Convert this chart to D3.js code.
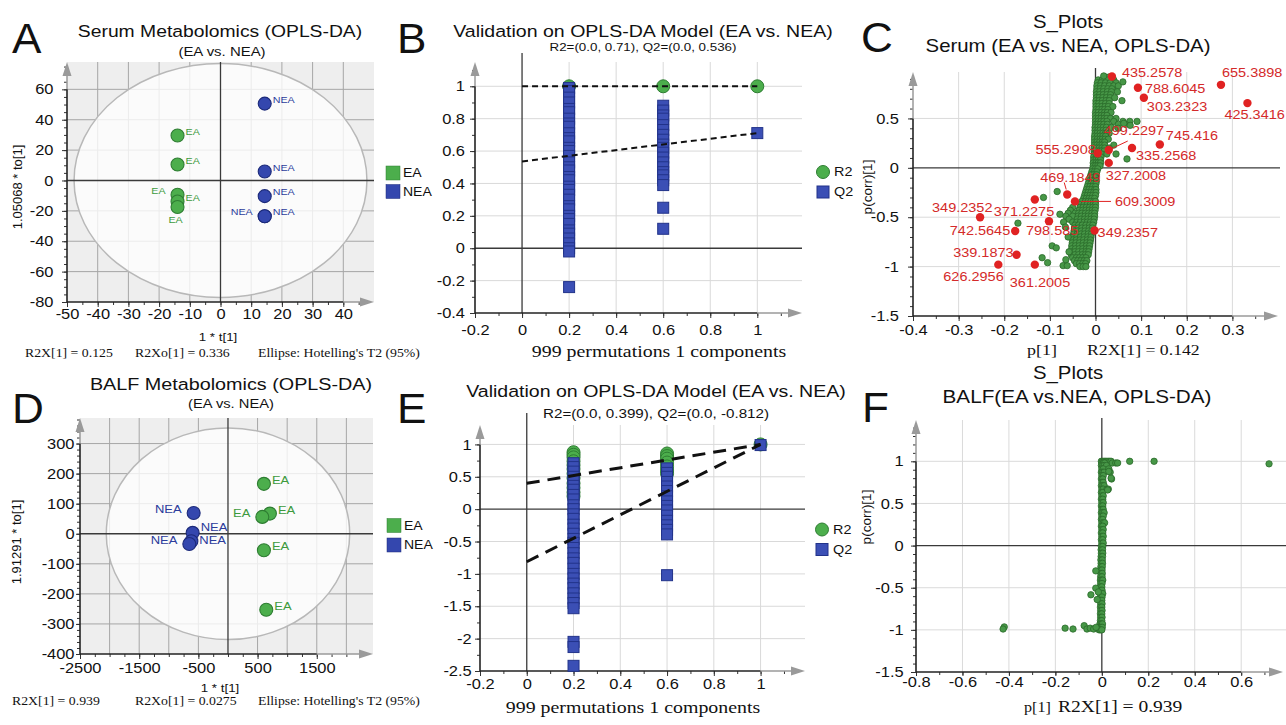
<!DOCTYPE html>
<html>
<head>
<meta charset="utf-8">
<script src="https://cdn.jsdelivr.net/npm/d3@7"></script>
<style>
  body { margin: 0; background: #fff; }
  svg { display: block; }
</style>
</head>
<body>
<svg id="fig"></svg>
<script>
// ---------------- data ----------------
// A: serum OPLS-DA scores  [t[1], to[1]]
const serumEA  = [[-14, 29.6], [-14, 10.5], [-14, -9.4], [-14, -13.8], [-14, -17.5]];
const serumNEA = [[14.4, 50.6], [14.4, 5.9], [14.4, -10.3], [14.4, -23.5], [14.4, -23.5]];
const serumEASide  = ["r", "r", "l", "r", "b"];
const serumNEASide = ["r", "r", "r", "r", "l"];
const serumEllipse = [47.7, 77];

// D: BALF OPLS-DA scores
const balfEA  = [[607, 166], [708, 67], [580, 56], [607, -55], [647, -253]];
const balfNEA = [[-580, 69], [-597, 3], [-619, -25], [-653, -34]];
const balfEASide  = ["r", "r", "l", "r", "r"];
const balfNEASide = ["l", "r", "r", "l"];
const balfEllipse = [2056, 352];

// B: serum permutation test
const serumR2 = [[0.2, [1.0]], [0.6, [1.0]], [1, [1.0]]];
const serumQ2 = [
  [0.2, [0.99, 0.97, 0.93, 0.9, 0.86, 0.84, 0.8, 0.77, 0.75, 0.71, 0.68, 0.66, 0.62, 0.6, 0.57, 0.53, 0.5, 0.48,
         0.44, 0.42, 0.38, 0.36, 0.33, 0.3, 0.26, 0.24, 0.2, 0.18, 0.15, 0.11, 0.09, 0.06, 0.03, 0.0, -0.02, -0.24]],
  [0.6, [0.88, 0.85, 0.82, 0.8, 0.76, 0.73, 0.7, 0.67, 0.64, 0.62, 0.59, 0.56, 0.53, 0.5, 0.47, 0.45, 0.42, 0.39, 0.25, 0.12]],
  [1, [0.711]]
];
const serumR2Line = [[0, 1.0], [1, 1.0]];
const serumQ2Line = [[0, 0.536], [1, 0.711]];

// E: BALF permutation test
const balfR2 = [
  [0.2, [0.88, 0.84, 0.8, 0.74, 0.68, 0.62, 0.55, 0.48, 0.4, 0.33, 0.26, 0.2]],
  [0.6, [0.86, 0.82, 0.78, 0.72, 0.66, 0.6, 0.55]],
  [1, [1.0]]
];
const balfQ2 = [
  [0.2, [0.71, 0.65, 0.58, 0.5, 0.44, 0.36, 0.3, 0.22, 0.15, 0.06, 0.0, -0.08, -0.15, -0.24, -0.3, -0.38, -0.46, -0.52,
         -0.6, -0.68, -0.76, -0.83, -0.92, -1.0, -1.07, -1.15, -1.22, -1.3, -1.38, -1.45, -1.53, -2.05, -2.13, -2.42]],
  [0.6, [0.63, 0.56, 0.5, 0.42, 0.35, 0.28, 0.2, 0.12, 0.05, -0.02, -0.1, -0.18, -0.25, -0.32, -0.39, -1.02]],
  [1, [0.99]]
];
const balfR2Line = [[0, 0.399], [1, 1.0]];
const balfQ2Line = [[0, -0.812], [1, 1.0]];

// C: serum S-plot  rows [p(corr), [p values]]
const serumBand = [
  [0.92, [0.02, 0.03]],
  [0.89, [0.006, 0.015, 0.025, 0.04]],
  [0.86, [0.004, 0.012, 0.022, 0.032, 0.045]],
  [0.83, [0.003, 0.011, 0.02, 0.03, 0.04, 0.05]],
  [0.80, [0.003, 0.01, 0.018, 0.027, 0.036]],
  [0.77, [0.002, 0.009, 0.017, 0.026, 0.035, 0.048]],
  [0.74, [0.002, 0.009, 0.017, 0.025, 0.033]],
  [0.71, [0.002, 0.008, 0.016, 0.024, 0.032, 0.042]],
  [0.68, [0.001, 0.008, 0.015, 0.023, 0.03]],
  [0.65, [0.001, 0.007, 0.014, 0.022, 0.03]],
  [0.62, [0.001, 0.007, 0.014, 0.021, 0.028, 0.038]],
  [0.59, [0.001, 0.007, 0.014, 0.02, 0.027]],
  [0.56, [0.0, 0.006, 0.013, 0.02, 0.026, 0.034]],
  [0.53, [0.0, 0.006, 0.013, 0.019, 0.025]],
  [0.50, [0.0, 0.006, 0.012, 0.019, 0.025, 0.033, 0.045]],
  [0.47, [0.0, 0.006, 0.012, 0.018, 0.025, 0.04, 0.06, 0.075]],
  [0.44, [0.0, 0.005, 0.011, 0.018, 0.026, 0.05, 0.066]],
  [0.41, [-0.001, 0.005, 0.011, 0.017, 0.024, 0.035]],
  [0.38, [-0.001, 0.005, 0.01, 0.017, 0.023]],
  [0.35, [-0.001, 0.004, 0.01, 0.016, 0.022, 0.03]],
  [0.32, [-0.002, 0.004, 0.01, 0.016, 0.022]],
  [0.29, [-0.002, 0.004, 0.01, 0.015, 0.021, 0.028]],
  [0.26, [-0.002, 0.003, 0.009, 0.015, 0.02]],
  [0.23, [-0.002, 0.003, 0.009, 0.014, 0.02, 0.04]],
  [0.20, [-0.003, 0.003, 0.008, 0.014, 0.02, 0.03]],
  [0.17, [-0.003, 0.002, 0.008, 0.013, 0.019]],
  [0.14, [-0.003, 0.002, 0.007, 0.013, 0.025, 0.045]],
  [0.11, [-0.004, 0.002, 0.007, 0.012]],
  [0.08, [-0.004, 0.001, 0.006, 0.011]],
  [0.05, [-0.005, 0.001, 0.006, 0.011]],
  [0.02, [-0.005, 0.0, 0.005, 0.01]],
  [-0.01, [-0.006, 0.0, 0.005]],
  [-0.04, [-0.008, -0.002, 0.003]],
  [-0.07, [-0.01, -0.004, 0.002]],
  [-0.10, [-0.012, -0.006, 0.0]],
  [-0.13, [-0.014, -0.008, -0.002, 0.002]],
  [-0.16, [-0.016, -0.01, -0.004, 0.001]],
  [-0.19, [-0.018, -0.012, -0.006, 0.0]],
  [-0.22, [-0.02, -0.014, -0.008, -0.002, 0.001]],
  [-0.25, [-0.022, -0.016, -0.01, -0.004, 0.001]],
  [-0.28, [-0.024, -0.018, -0.012, -0.006, 0.0]],
  [-0.31, [-0.026, -0.02, -0.014, -0.008, -0.002]],
  [-0.34, [-0.03, -0.022, -0.016, -0.01, -0.004, 0.0]],
  [-0.37, [-0.032, -0.025, -0.018, -0.011, -0.005, 0.0]],
  [-0.40, [-0.05, -0.034, -0.027, -0.02, -0.013, -0.006, 0.0]],
  [-0.43, [-0.055, -0.036, -0.028, -0.021, -0.014, -0.007, -0.001]],
  [-0.46, [-0.06, -0.045, -0.037, -0.03, -0.022, -0.015, -0.008, -0.002]],
  [-0.49, [-0.065, -0.05, -0.038, -0.031, -0.023, -0.016, -0.009, -0.002]],
  [-0.52, [-0.058, -0.04, -0.032, -0.024, -0.017, -0.01, -0.003]],
  [-0.55, [-0.05, -0.041, -0.033, -0.025, -0.018, -0.011, -0.004]],
  [-0.58, [-0.045, -0.037, -0.029, -0.021, -0.013, -0.006]],
  [-0.61, [-0.046, -0.038, -0.03, -0.022, -0.014, -0.007]],
  [-0.64, [-0.047, -0.039, -0.031, -0.023, -0.015, -0.008]],
  [-0.67, [-0.048, -0.04, -0.032, -0.024, -0.016, -0.009]],
  [-0.70, [-0.05, -0.041, -0.033, -0.025, -0.017, -0.01]],
  [-0.73, [-0.05, -0.042, -0.034, -0.026, -0.018, -0.011]],
  [-0.76, [-0.051, -0.043, -0.035, -0.027, -0.019, -0.012]],
  [-0.79, [-0.052, -0.044, -0.036, -0.028, -0.02, -0.013]],
  [-0.82, [-0.052, -0.044, -0.036, -0.028, -0.02, -0.014]],
  [-0.85, [-0.053, -0.045, -0.037, -0.029, -0.021, -0.015]],
  [-0.88, [-0.053, -0.045, -0.037, -0.029, -0.022, -0.016]],
  [-0.91, [-0.05, -0.042, -0.035, -0.028, -0.021]],
  [-0.94, [-0.046, -0.039, -0.032, -0.025, -0.019]],
  [-0.97, [-0.042, -0.035, -0.028, -0.022]],
  [-1.00, [-0.034, -0.027, -0.021]]
];
const serumScatter = [
  [0.018, 0.93], [0.06, 0.87], [0.058, 0.68], [0.069, 0.09], [0.091, 0.47], [0.076, 0.43], [0.062, 0.45],
  [0.05, 0.4], [-0.114, -0.30], [-0.084, -0.24], [-0.17, -0.56], [-0.078, -0.47], [-0.095, -0.79],
  [-0.086, -0.81], [-0.117, -0.91], [-0.105, -0.96], [-0.071, -0.99], [-0.062, -0.99], [-0.07, -0.55],
  [-0.066, -0.6], [-0.06, -0.7], [-0.058, -0.85], [-0.065, -0.93]
];
// marked metabolites [name, p[1], p(corr)[1]]
const serumMarked = [
  ["435.2578", 0.036, 0.925], ["655.3898", 0.275, 0.84], ["788.6045", 0.093, 0.81], ["303.2323", 0.106, 0.71],
  ["425.3416", 0.333, 0.655], ["745.416", 0.141, 0.236], ["499.2297", 0.029, 0.18], ["555.2908", 0.005, 0.148],
  ["335.2568", 0.080, 0.2], ["327.2008", 0.029, 0.05], ["469.1849", -0.062, -0.27], ["609.3009", -0.045, -0.34],
  ["349.2352", -0.253, -0.50], ["371.2275", -0.133, -0.32], ["742.5645", -0.176, -0.64], ["798.585", -0.102, -0.54],
  ["349.2357", -0.002, -0.635], ["339.1873", -0.173, -0.88], ["626.2956", -0.213, -0.98], ["361.2005", -0.133, -0.98]
];

// F: BALF S-plot
const balfBand = [
  [1.0, [-0.002, 0.004, 0.01, 0.016, 0.022, 0.028, 0.034, 0.04]],
  [0.98, [0.0, 0.006, 0.012, 0.045, 0.06, 0.068]],
  [0.95, [-0.002, 0.004, 0.01, 0.02]],
  [0.91, [0.0, 0.006, 0.03]],
  [0.87, [-0.002, 0.004, 0.01, 0.036]],
  [0.83, [0.0, 0.006]],
  [0.79, [-0.002, 0.004, 0.042]],
  [0.75, [0.0, 0.006]],
  [0.71, [-0.002, 0.004, 0.01]],
  [0.67, [0.0, 0.006, 0.022, 0.028]],
  [0.63, [-0.002, 0.004]],
  [0.59, [0.0, 0.006]],
  [0.55, [-0.002, 0.004]],
  [0.51, [0.0, 0.006]],
  [0.47, [-0.002, 0.004]],
  [0.43, [0.0, 0.006]],
  [0.39, [-0.002, 0.004, 0.01]],
  [0.35, [0.0, 0.006]],
  [0.31, [-0.002, 0.004]],
  [0.27, [0.0, 0.006, 0.012]],
  [0.23, [-0.002, 0.004]],
  [0.19, [0.0, 0.006]],
  [0.15, [-0.002, 0.004]],
  [0.11, [0.0, 0.006]],
  [0.07, [-0.002, 0.004]],
  [0.03, [0.0, 0.006]],
  [-0.01, [-0.002, 0.004]],
  [-0.05, [-0.003, 0.003]],
  [-0.09, [-0.002, 0.004]],
  [-0.13, [-0.003, 0.003]],
  [-0.17, [-0.004, 0.002]],
  [-0.21, [-0.003, 0.003]],
  [-0.25, [-0.004, 0.002]],
  [-0.29, [-0.005, 0.001]],
  [-0.33, [-0.004, 0.002]],
  [-0.37, [-0.005, 0.001]],
  [-0.41, [-0.006, 0.0, 0.004]],
  [-0.45, [-0.005, 0.001]],
  [-0.49, [-0.006, 0.0]],
  [-0.53, [-0.005, 0.001]],
  [-0.57, [-0.006, 0.0, 0.004]],
  [-0.61, [-0.005, 0.001]],
  [-0.65, [-0.006, 0.0]],
  [-0.69, [-0.005, 0.001]],
  [-0.73, [-0.006, 0.0]],
  [-0.77, [-0.005, 0.001]],
  [-0.81, [-0.006, 0.0]],
  [-0.85, [-0.005, 0.001]],
  [-0.89, [-0.006, 0.0]],
  [-0.93, [-0.008, -0.002, 0.003]],
  [-0.97, [-0.01, -0.004, 0.002]],
  [-1.0, [-0.012, -0.006, 0.0]]
];
const balfScatter = [
  [0.12, 1.0], [0.225, 1.0], [0.72, 0.97], [0.04, 0.8], [0.03, 0.88], [0.025, 0.66],
  [-0.026, -0.30], [-0.026, -0.505], [-0.047, -0.584], [-0.02, -0.64], [-0.015, -0.55],
  [-0.158, -0.98], [-0.124, -0.99], [-0.076, -0.95], [-0.064, -0.99], [-0.05, -0.98], [-0.035, -0.99],
  [-0.025, -0.97], [-0.42, -0.965], [-0.425, -0.99]
];

// ---------------- drawing ----------------
const SX = 1.15;          // the source figure's text is a little wide
const SANS = '"Liberation Sans", Arial, sans-serif';
const SERIF = '"Liberation Serif", "Times New Roman", serif';
const TICK = 14.3;
const GREEN = "#4cae4c", GREEN_D = "#2e7d32", BLUE = "#3447ae", BLUE_D = "#1c2a7a";
const SGREEN = "#479747", SGREEN_D = "#2a6a2a", RED = "#e02222", RED_T = "#d42a2a";

const svg = d3.select("#fig").attr("width", 1286).attr("height", 725);
svg.append("rect").attr("width", 1286).attr("height", 725).attr("fill", "#fff");

const fmt = d => String(+d.toFixed(3));

function txt(g, x, y, s, o = {}) {
  const t = g.append("text")
    .attr("transform", o.rot ? `translate(${x},${y}) rotate(-90)` : `translate(${x},${y}) scale(${o.sx || SX},1)`)
    .attr("font-family", o.serif ? SERIF : SANS)
    .attr("font-size", o.size || 12)
    .attr("text-anchor", o.anchor || "start")
    .attr("fill", o.fill || "#111")
    .text(s);
  if (o.mid) t.attr("dy", "0.35em");
  return t;
}

function frame(g, o) {
  const x = o.x, y = o.y;
  const [L, R] = x.range(), [B, T] = y.range();
  const GR = o.gridRight || R;
  if (o.bg) g.append("rect").attr("x", L).attr("y", T).attr("width", GR - L).attr("height", B - T).attr("fill", "#eeeeee");
  g.append("g").selectAll("line").data(o.xGrid).join("line")
    .attr("x1", d => x(d)).attr("x2", d => x(d)).attr("y1", T).attr("y2", B)
    .attr("stroke", o.gridColor).attr("stroke-width", 1);
  g.append("g").selectAll("line").data(o.yGrid).join("line")
    .attr("x1", L).attr("x2", GR).attr("y1", d => y(d)).attr("y2", d => y(d))
    .attr("stroke", o.gridColor).attr("stroke-width", 1);
  if (o.ellipse) {
    g.append("ellipse")
      .attr("cx", x(0)).attr("cy", y(0))
      .attr("rx", x(o.ellipse[0]) - x(0)).attr("ry", y(0) - y(o.ellipse[1]))
      .attr("fill", "rgba(255,255,255,0.78)").attr("stroke", "#b8b8b8").attr("stroke-width", 1.5);
  }
  g.append("line").attr("x1", x(0)).attr("x2", x(0)).attr("y1", o.zeroTop || T).attr("y2", B)
    .attr("stroke", "#3a3a3a").attr("stroke-width", 1.3);
  g.append("line").attr("x1", L).attr("x2", o.zeroRight || R).attr("y1", y(0)).attr("y2", y(0))
    .attr("stroke", "#3a3a3a").attr("stroke-width", 1.3);

  const ax = g.append("g").attr("transform", `translate(0,${B})`)
    .call(d3.axisBottom(x).tickValues(o.xMajor).tickSize(o.xTick[0]).tickPadding(o.xTick[1]).tickFormat(fmt));
  g.append("g").attr("transform", `translate(0,${B})`)
    .call(d3.axisBottom(x).tickValues(o.xMinor).tickSize(3).tickFormat(""));
  const ay = g.append("g").attr("transform", `translate(${L},0)`)
    .call(d3.axisLeft(y).tickValues(o.yMajor).tickSize(o.yTick[0]).tickPadding(o.yTick[1]).tickFormat(fmt));
  g.append("g").attr("transform", `translate(${L},0)`)
    .call(d3.axisLeft(y).tickValues(o.yMinor).tickSize(3).tickFormat(""));
  g.selectAll(".domain").remove();
  g.selectAll(".tick line").attr("stroke", "#333").attr("stroke-width", 1);
  ax.selectAll("text").attr("font-size", TICK).attr("font-family", SANS).attr("fill", "#111")
    .attr("transform", `scale(${SX},1)`);
  ay.selectAll("text").attr("font-size", TICK).attr("font-family", SANS).attr("fill", "#111")
    .attr("x", -(o.yTick[0] + o.yTick[1]) / SX).attr("transform", `scale(${SX},1)`);

  // axis lines: black up to the last major tick, grey with an arrow beyond
  const xe = x(d3.max(o.xMajor)), ye = y(d3.max(o.yMajor));
  g.append("line").attr("x1", L).attr("x2", xe).attr("y1", B).attr("y2", B).attr("stroke", "#222").attr("stroke-width", 1.6);
  g.append("line").attr("x1", xe).attr("x2", R - 8).attr("y1", B).attr("y2", B).attr("stroke", "#9a9a9a").attr("stroke-width", 1.5);
  g.append("path").attr("d", `M${R},${B}L${R - 14},${B - 4.5}L${R - 14},${B + 4.5}Z`).attr("fill", "#9a9a9a");
  g.append("line").attr("x1", L).attr("x2", L).attr("y1", B).attr("y2", ye).attr("stroke", "#222").attr("stroke-width", 1.6);
  g.append("line").attr("x1", L).attr("x2", L).attr("y1", ye).attr("y2", T + 8).attr("stroke", "#9a9a9a").attr("stroke-width", 1.5);
  g.append("path").attr("d", `M${L},${T}L${L - 4.5},${T + 14}L${L + 4.5},${T + 14}Z`).attr("fill", "#9a9a9a");
}

function legendSquares(g, x, y0, gap) {
  [["EA", GREEN, GREEN_D], ["NEA", BLUE, BLUE_D]].forEach(([name, c, cs], i) => {
    const y = y0 + i * gap;
    g.append("rect").attr("x", x).attr("y", y).attr("width", 14).attr("height", 14).attr("fill", c).attr("stroke", cs).attr("stroke-width", 0.5);
    txt(g, x + 17, y + 7, name, {size: 12.2, mid: true});
  });
}

function scorePanel(o) {
  const g = svg.append("g");
  frame(g, o);
  [[o.ea, o.eaSide, GREEN, GREEN_D, "#3d9a3d", "EA", o.eaDy], [o.nea, o.neaSide, BLUE, BLUE_D, "#2c3c9c", "NEA", o.neaDy]]
    .forEach(([pts, sides, fill, stroke, tc, name, dys]) => {
      g.append("g").selectAll("circle").data(pts).join("circle")
        .attr("cx", d => o.x(d[0])).attr("cy", d => o.y(d[1])).attr("r", o.r)
        .attr("fill", fill).attr("stroke", stroke).attr("stroke-width", 1.1);
      pts.forEach((d, i) => {
        const s = sides[i];
        const px = o.x(d[0]) + (s === "r" ? o.r + 1.5 : s === "l" ? -(o.r + 5.5) : -2);
        const py = o.y(d[1]) + (s === "b" ? o.r + 6 : -4) + (dys ? dys[i] : 0);
        txt(g, px, py, name, {size: o.labelSize, fill: tc, mid: true,
          anchor: s === "l" ? "end" : s === "b" ? "middle" : "start"});
      });
    });
  legendSquares(g, o.legend[0], o.legend[1], o.legend[2]);
}

function permPanel(o) {
  const g = svg.append("g");
  frame(g, o);
  const r2 = o.r2.flatMap(([k, vs]) => vs.map(v => [k, v]));
  const q2 = o.q2.flatMap(([k, vs]) => vs.map(v => [k, v]));
  g.append("g").selectAll("circle").data(r2).join("circle")
    .attr("cx", d => o.x(d[0])).attr("cy", d => o.y(d[1])).attr("r", 6.5)
    .attr("fill", GREEN).attr("stroke", GREEN_D).attr("stroke-width", 1);
  g.append("g").selectAll("rect").data(q2).join("rect")
    .attr("x", d => o.x(d[0]) - 5.5).attr("y", d => o.y(d[1]) - 5.5).attr("width", 11).attr("height", 11)
    .attr("fill", "#3b4fb5").attr("stroke", "#22338a").attr("stroke-width", 1);
  const line = d3.line().x(d => o.x(d[0])).y(d => o.y(d[1]));
  [o.r2Line, o.q2Line].forEach(l => g.append("path").attr("d", line(l)).attr("fill", "none")
    .attr("stroke", "#111").attr("stroke-width", o.dashW).attr("stroke-dasharray", o.dash));
  const [lx, ly] = o.legend;
  g.append("circle").attr("cx", lx).attr("cy", ly).attr("r", 6.5).attr("fill", GREEN).attr("stroke", GREEN_D);
  txt(g, lx + 11, ly, "R2", {size: 12.5, mid: true});
  g.append("rect").attr("x", lx - 6).attr("y", ly + 14).attr("width", 12).attr("height", 12).attr("fill", "#3b4fb5").attr("stroke", "#22338a");
  txt(g, lx + 11, ly + 20, "Q2", {size: 12.5, mid: true});
}

function sPanel(o) {
  const g = svg.append("g");
  frame(g, o);
  const pts = o.band.flatMap(([yv, xs]) => xs.map(xv => [xv, yv])).concat(o.scatter);
  g.append("g").selectAll("circle").data(pts).join("circle")
    .attr("cx", d => o.x(d[0])).attr("cy", d => o.y(d[1])).attr("r", 3.2)
    .attr("fill", SGREEN).attr("stroke", SGREEN_D).attr("stroke-width", 0.8);
  if (!o.marked) return;
  const lead = o.leaders;
  Object.entries(lead).forEach(([name, seg]) => {
    const m = o.marked.find(d => d[0] === name);
    const px = o.x(m[1]), py = o.y(m[2]);
    g.append("line").attr("x1", px + seg[0]).attr("y1", py + seg[1]).attr("x2", px + seg[2]).attr("y2", py + seg[3])
      .attr("stroke", RED).attr("stroke-width", 1);
  });
  g.append("g").selectAll("circle").data(o.marked).join("circle")
    .attr("cx", d => o.x(d[1])).attr("cy", d => o.y(d[2])).attr("r", 4.2).attr("fill", RED);
  o.marked.forEach(d => {
    const off = o.offsets[d[0]];
    txt(g, o.x(d[1]) + off[0], o.y(d[2]) + off[1], d[0], {size: 12.6, fill: RED_T, mid: true, anchor: off[2] || "start"});
  });
}

// label placement for the marked serum metabolites [dx, dy, anchor]
const serumOffsets = {
  "435.2578": [10, -4], "655.3898": [1, -12], "788.6045": [7, 1], "303.2323": [3, 9], "425.3416": [-23, 11],
  "745.416": [6, -9], "499.2297": [-5, -19], "555.2908": [-2, -4, "end"], "335.2568": [4, 8], "327.2008": [-3, 13],
  "469.1849": [-27, -17], "609.3009": [40, 0], "349.2352": [-48, -10], "371.2275": [-41, 12],
  "742.5645": [-5, 0, "end"], "798.585": [-23, 9], "349.2357": [3, 2], "339.1873": [-3, -2, "end"],
  "626.2956": [-55, 12], "361.2005": [-25, 18]
};
const serumLeaders = {"499.2297": [2, -1, 19, -9], "469.1849": [-3, -12, -1, -5], "609.3009": [6, 0, 36, 0]};

// ---------- A ----------
scorePanel({
  x: d3.scaleLinear([-50, 50], [67, 374]), y: d3.scaleLinear([-80, 78], [302, 62]),
  xMajor: d3.range(-50, 41, 10), xMinor: d3.range(-50, 50, 5),
  yMajor: d3.range(-80, 61, 20), yMinor: d3.range(-80, 76, 5),
  xGrid: [-40, -30, -20, -10, 10, 20, 30, 40], yGrid: [-60, -40, -20, 20, 40, 60],
  gridColor: "#a6a6a6", bg: true, ellipse: serumEllipse,
  xTick: [5, 2], yTick: [5, 8.5],
  ea: serumEA, nea: serumNEA, eaSide: serumEASide, neaSide: serumNEASide,
  r: 6.5, labelSize: 9.3, legend: [386, 166, 18.5]
});
// ---------- D ----------
scorePanel({
  x: d3.scaleLinear([-2500, 2450], [80, 373]), y: d3.scaleLinear([-400, 385], [654, 418]),
  xMajor: [-2500, -1500, -500, 500, 1500], xMinor: d3.range(-2500, 2450, 250),
  yMajor: d3.range(-400, 301, 100), yMinor: d3.range(-400, 381, 20),
  xGrid: [-2000, -1500, -1000, -500, 500, 1000, 1500, 2000], yGrid: [-300, -200, -100, 100, 200, 300],
  gridColor: "#a6a6a6", bg: true, ellipse: balfEllipse,
  xTick: [5, 3.7], yTick: [4, 1.5],
  ea: balfEA, nea: balfNEA, eaSide: balfEASide, neaSide: balfNEASide, neaDy: [0, -2, 3, 0],
  r: 6.5, labelSize: 11.3, legend: [387, 518.5, 19.5]
});
// ---------- B ----------
permPanel({
  x: d3.scaleLinear([-0.2, 1.19], [475, 802]), y: d3.scaleLinear([-0.4, 1.15], [313, 62]),
  xMajor: [-0.2, 0, 0.2, 0.4, 0.6, 0.8, 1], xMinor: d3.range(-2, 12).map(d => d / 10),
  yMajor: [-0.4, -0.2, 0, 0.2, 0.4, 0.6, 0.8, 1], yMinor: d3.range(-4, 12).map(d => d / 10),
  xGrid: [0.2, 0.4, 0.6, 0.8, 1], yGrid: [-0.2, 0.2, 0.4, 0.6, 0.8, 1],
  gridColor: "#d9d9d9", zeroTop: 53, xTick: [5, 6.6], yTick: [5, 5],
  r2: serumR2, q2: serumQ2, r2Line: serumR2Line, q2Line: serumQ2Line,
  dash: "6,4", dashW: 2, legend: [823, 172]
});
// ---------- E ----------
permPanel({
  x: d3.scaleLinear([-0.2, 1.19], [480, 805]), y: d3.scaleLinear([-2.5, 1.3], [671, 425]),
  xMajor: [-0.2, 0, 0.2, 0.4, 0.6, 0.8, 1], xMinor: d3.range(-2, 12).map(d => d / 10),
  yMajor: [-2.5, -2, -1.5, -1, -0.5, 0, 0.5, 1], yMinor: d3.range(-10, 5).map(d => d / 4),
  xGrid: [0.2, 0.4, 0.6, 0.8, 1], yGrid: [-2, -1.5, -1, -0.5, 0.5, 1],
  gridColor: "#d9d9d9", zeroTop: 413, xTick: [5, 3], yTick: [5, 3.3],
  r2: balfR2, q2: balfQ2, r2Line: balfR2Line, q2Line: balfQ2Line,
  dash: "13,8", dashW: 3, legend: [822, 529.5]
});
// ---------- C ----------
sPanel({
  x: d3.scaleLinear([-0.4, 0.4], [913, 1278]), y: d3.scaleLinear([-1.5, 0.97], [316, 72]),
  xMajor: d3.range(-4, 4).map(d => d / 10), xMinor: d3.range(-8, 8).map(d => d / 20),
  yMajor: [-1.5, -1, -0.5, 0, 0.5], yMinor: d3.range(-15, 10).map(d => d / 10),
  xGrid: [-0.3, -0.2, -0.1, 0.1, 0.2, 0.3], yGrid: [-1, -0.5, 0.5],
  gridColor: "#dadada", gridRight: 1280, zeroTop: 68, zeroRight: 1280,
  xTick: [5, 3.6], yTick: [5, 9],
  band: serumBand, scatter: serumScatter, marked: serumMarked, offsets: serumOffsets, leaders: serumLeaders
});
// ---------- F ----------
sPanel({
  x: d3.scaleLinear([-0.8, 0.78], [916, 1283]), y: d3.scaleLinear([-1.5, 1.49], [672, 420]),
  xMajor: d3.range(-8, 7, 2).map(d => d / 10), xMinor: d3.range(-8, 8).map(d => d / 10),
  yMajor: [-1.5, -1, -0.5, 0, 0.5, 1], yMinor: d3.range(-15, 15).map(d => d / 10),
  xGrid: [-0.6, -0.4, -0.2, 0.2, 0.4, 0.6], yGrid: [-1, -0.5, 0.5, 1],
  gridColor: "#dadada", gridRight: 1286, zeroTop: 418, zeroRight: 1286,
  xTick: [4, 0.5], yTick: [5, 7.4],
  band: balfBand, scatter: balfScatter
});

// ---------- titles, axis labels, footers ----------
const t = svg.append("g");
[["A", 12, 53], ["B", 397, 53], ["C", 861, 52], ["D", 12, 423], ["E", 397, 423], ["F", 862, 422]]
  .forEach(([s, x, y]) => txt(t, x, y, s, {size: 42, sx: 1.05}));

txt(t, 220, 37, "Serum Metabolomics (OPLS-DA)", {size: 16.8, anchor: "middle"});
txt(t, 222, 56, "(EA vs. NEA)", {size: 13, anchor: "middle"});
txt(t, 643, 37, "Validation on OPLS-DA Model (EA vs. NEA)", {size: 17, anchor: "middle"});
txt(t, 643, 51, "R2=(0.0, 0.71), Q2=(0.0, 0.536)", {size: 11.6, anchor: "middle"});
txt(t, 1068, 27.5, "S_Plots", {size: 17.7, anchor: "middle"});
txt(t, 1068, 52, "Serum (EA vs. NEA, OPLS-DA)", {size: 17.7, anchor: "middle"});

txt(t, 231, 389.5, "BALF Metabolomics (OPLS-DA)", {size: 17.2, anchor: "middle"});
txt(t, 231, 407.5, "(EA vs. NEA)", {size: 12.8, anchor: "middle"});
txt(t, 656, 396.5, "Validation on OPLS-DA Model (EA vs. NEA)", {size: 17, anchor: "middle"});
txt(t, 656, 417.5, "R2=(0.0, 0.399), Q2=(0.0, -0.812)", {size: 13.2, anchor: "middle"});
txt(t, 1068, 379, "S_Plots", {size: 17.7, anchor: "middle"});
txt(t, 1077, 403, "BALF(EA vs.NEA, OPLS-DA)", {size: 18, anchor: "middle"});

// axis titles
txt(t, 22, 187, "1.05068 * to[1]", {size: 13, anchor: "middle", rot: true});
txt(t, 218, 341, "1 * t[1]", {size: 11.6, anchor: "middle"});
txt(t, 21, 542, "1.91291 * to[1]", {size: 13, anchor: "middle", rot: true});
txt(t, 220, 692, "1 * t[1]", {size: 11.6, anchor: "middle"});
txt(t, 872, 187, "p(corr)[1]", {size: 13.5, anchor: "middle", rot: true});
txt(t, 871, 517, "p(corr)[1]", {size: 13.5, anchor: "middle", rot: true});

txt(t, 659, 357, "999 permutations 1 components", {size: 17.3, anchor: "middle", serif: true});
txt(t, 633, 713, "999 permutations 1 components", {size: 17.3, anchor: "middle", serif: true});
txt(t, 1027, 355, "p[1]", {size: 15.6, serif: true});
txt(t, 1087, 355, "R2X[1] = 0.142", {size: 15.4, serif: true});
txt(t, 1024, 711.5, "p[1]", {size: 14, serif: true});
txt(t, 1058, 711.5, "R2X[1] = 0.939", {size: 17, serif: true});

// footers
txt(t, 25, 357, "R2X[1] = 0.125", {size: 12, serif: true});
txt(t, 135, 357, "R2Xo[1] = 0.336", {size: 12, serif: true});
txt(t, 258, 357, "Ellipse: Hotelling's T2 (95%)", {size: 12, serif: true});
txt(t, 12, 705, "R2X[1] = 0.939", {size: 12, serif: true});
txt(t, 135, 705, "R2Xo[1] = 0.0275", {size: 12, serif: true});
txt(t, 258, 705, "Ellipse: Hotelling's T2 (95%)", {size: 12, serif: true});
</script>
</body>
</html>
